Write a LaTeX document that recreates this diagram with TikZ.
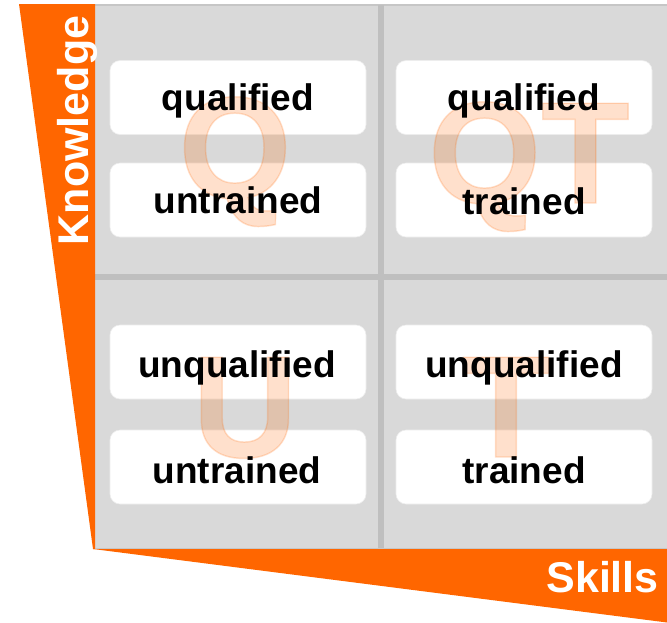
\documentclass[tikz,border=0pt]{standalone}
\usepackage{fontspec}
\setmainfont{Liberation Sans}
\newfontfamily\bigletters[FakeBold=1.0]{Liberation Sans Bold}
\definecolor{org}{HTML}{FF6600}
\definecolor{bg}{HTML}{D9D9D9}
\definecolor{divc}{HTML}{BFBFBF}
\definecolor{edgec}{HTML}{C6C6C6}
\begin{document}
\begin{tikzpicture}[x=1pt,y=-1pt,
  cell/.style={fill=white, draw=white!93!black, line width=0.6pt, rounded corners=10pt, minimum width=256pt, minimum height=74pt, inner sep=0pt},
  lbl/.style={font=\fontsize{37}{40}\selectfont\bfseries, anchor=base, inner sep=0pt},
  big/.style={font=\fontsize{145}{150}\bigletters, anchor=base, inner sep=0pt, text=org},
  axislbl/.style={font=\fontsize{43}{45}\selectfont\bfseries, text=white, inner sep=0pt}
]
\useasboundingbox (0,0) rectangle (667,622);
% grey field
\fill[bg] (95,4) rectangle (667,549);
\draw[edgec, line width=1.6pt] (95,4.8) -- (667,4.8);
\draw[edgec, line width=1.2pt] (95,548.6) -- (667,548.6);
% dividers
\coordinate (vtop) at (380.5,5);
\coordinate (vbot) at (380.5,548);
\coordinate (hl) at (95,277);
\coordinate (hr) at (667,277);
\draw[divc, line width=6pt] (vtop) -- (vbot);
\draw[divc, line width=6pt] (hl) -- (hr);
% boxes
\node[cell] (b1) at (238,97.5) {};
\node[cell] (b2) at (238,200) {};
\node[cell] (b3) at (524,97.5) {};
\node[cell] (b4) at (524,200) {};
\node[cell] (b5) at (238,362) {};
\node[cell] (b6) at (238,467) {};
\node[cell] (b7) at (524,362) {};
\node[cell] (b8) at (524,467) {};
% big letters
\begin{scope}[opacity=0.2]
\node[big] (lq) at (235,198) {Q};
\node[big] (lqt) at (529,203) {QT};
\node[big] (lu) at (245,457) {U};
\node[big] (lt) at (506,457) {T};
\end{scope}
% labels
\node[lbl] (t1) at (238,110) {qualified};
\node[lbl] (t2) at (238,213) {untrained};
\node[lbl] (t3) at (524,110) {qualified};
\node[lbl] (t4) at (524,214) {trained};
\node[lbl] (t5) at (237,377) {unqualified};
\node[lbl] (t6) at (237,483) {untrained};
\node[lbl] (t7) at (524,377) {unqualified};
\node[lbl] (t8) at (524,483) {trained};
% orange bands
\fill[org] (19,4) -- (95,4) -- (95,549) -- (93,549) -- cycle;
\fill[org] (93,549) -- (667,549) -- (667,622.5) -- cycle;
\node[axislbl, rotate=90, anchor=base] (know) at (88,130.5) {Knowledge};
\node[axislbl, anchor=base east] (skills) at (659,592) {Skills};
\end{tikzpicture}
\end{document}
